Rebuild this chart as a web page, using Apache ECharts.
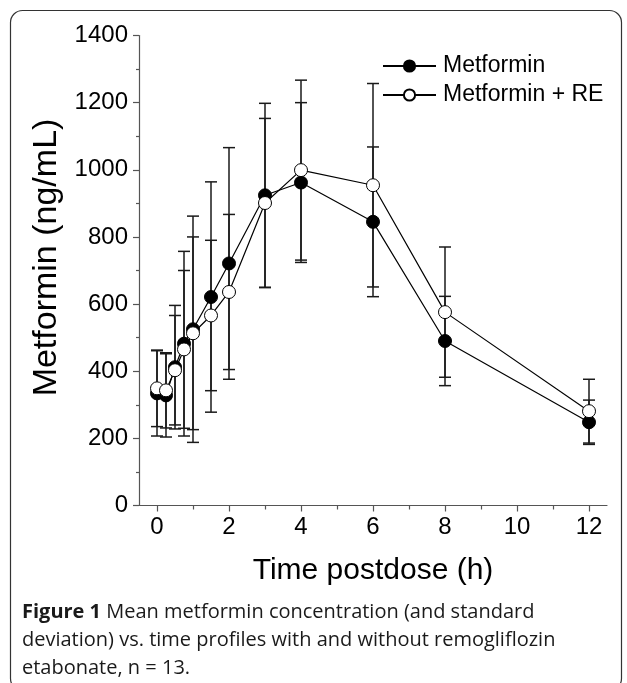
<!DOCTYPE html>
<html>
<head>
<meta charset="utf-8">
<script src="https://cdn.jsdelivr.net/npm/echarts@6/dist/echarts.min.js"></script>
<style>
html,body{margin:0;padding:0;background:#fff;}
#chart{width:627px;height:683px;}
</style>
</head>
<body>
<div id="chart"></div>
<script>
// ---- Data ----
var times = [0, 0.25, 0.5, 0.75, 1, 1.5, 2, 3, 4, 6, 8, 12];
var metformin = [334, 328, 412, 482, 525, 621, 721, 924, 962, 845, 490, 248];
var metforminSD = [127, 124, 184, 275, 337, 343, 345, 274, 238, 223, 133, 66];
var metforminRE = [349, 343, 403, 465, 513, 566, 636, 901, 999, 954, 576, 281];
var metforminRESD = [114, 112, 163, 235, 287, 224, 231, 252, 268, 303, 194, 95];
var seriesNames = ['Metformin', 'Metformin + RE'];
var xTickLabels = [0, 2, 4, 6, 8, 10, 12];
var xMinorTicks = [1, 3, 5, 7, 9, 11];
var captionBold = 'Figure 1';
var captionText = ' Mean metformin concentration (and standard\ndeviation) vs. time profiles with and without remogliflozin\netabonate, n = 13.';

function pairs(xs, ys) { return xs.map(function (x, i) { return [x, ys[i]]; }); }
function errData(xs, ys, sd) { return xs.map(function (x, i) { return [x, ys[i] - sd[i], ys[i] + sd[i]]; }); }

function errorBarRender(params, api) {
  var x = api.value(0);
  var lo = api.coord([x, api.value(1)]);
  var hi = api.coord([x, api.value(2)]);
  var half = 6;
  var st = { stroke: '#1a1a1a', lineWidth: 1.5 };
  return {
    type: 'group',
    children: [
      { type: 'line', shape: { x1: lo[0], y1: lo[1], x2: hi[0], y2: hi[1] }, style: st },
      { type: 'line', shape: { x1: hi[0] - half, y1: hi[1], x2: hi[0] + half, y2: hi[1] }, style: st },
      { type: 'line', shape: { x1: lo[0] - half, y1: lo[1], x2: lo[0] + half, y2: lo[1] }, style: st }
    ]
  };
}

var FONT = 'Liberation Sans, Arial, sans-serif';
var CAPFONT = 'Open Sans, Noto Sans, sans-serif';
var chart = echarts.init(document.getElementById('chart'), null, { renderer: 'canvas' });

var option = {
  backgroundColor: '#fff',
  animation: false,
  grid: { left: 139, top: 35.5, right: 20, bottom: 177.5, containLabel: false },
  legend: {
    orient: 'vertical',
    left: 377,
    top: 49,
    data: seriesNames,
    itemWidth: 53,
    itemHeight: 14,
    itemGap: 5,
    textStyle: { fontSize: 23, fontFamily: FONT, color: '#000', lineHeight: 24, padding: [0, 0, 0, 2] }
  },
  xAxis: [{
    type: 'value',
    min: -0.5,
    max: 12.5,
    name: 'Time postdose (h)',
    nameLocation: 'middle',
    nameGap: 50,
    nameTextStyle: { fontSize: 30, fontFamily: FONT, color: '#000' },
    axisLine: { show: true, onZero: false, lineStyle: { color: '#555', width: 1.2 } },
    axisTick: { show: true, inside: false, length: 6, customValues: xTickLabels, lineStyle: { color: '#555', width: 1.2 } },
    axisLabel: { fontSize: 24, fontFamily: FONT, color: '#000', margin: 10, customValues: xTickLabels },
    splitLine: { show: false }
  }, {
    type: 'value',
    min: -0.5,
    max: 12.5,
    position: 'bottom',
    axisLine: { show: false, onZero: false },
    axisTick: { show: true, inside: false, length: 4, customValues: xMinorTicks, lineStyle: { color: '#555', width: 1.2 } },
    axisLabel: { show: false },
    splitLine: { show: false }
  }],
  yAxis: {
    type: 'value',
    min: 0,
    max: 1400,
    interval: 200,
    name: 'Metformin (ng/mL)',
    nameLocation: 'middle',
    nameGap: 72,
    nameTextStyle: { fontSize: 34, fontFamily: FONT, color: '#000', padding: [0, 0, 0, 26] },
    axisLine: { show: true, onZero: false, lineStyle: { color: '#555', width: 1.2 } },
    axisTick: { show: true, inside: false, length: 6, lineStyle: { color: '#555', width: 1.2 } },
    minorTick: { show: true, splitNumber: 2, length: 3, lineStyle: { color: '#555', width: 1.2 } },
    axisLabel: { fontSize: 24, fontFamily: FONT, color: '#000', margin: 11, formatter: function (v) { return String(v); } },
    splitLine: { show: false },
    minorSplitLine: { show: false }
  },
  series: [
    {
      name: 'err1', type: 'custom', renderItem: errorBarRender,
      data: errData(times, metformin, metforminSD), z: 1, silent: true,
      encode: { x: 0, y: [1, 2] }
    },
    {
      name: 'err2', type: 'custom', renderItem: errorBarRender,
      data: errData(times, metforminRE, metforminRESD), z: 1, silent: true,
      encode: { x: 0, y: [1, 2] }
    },
    {
      name: seriesNames[0], type: 'line', data: pairs(times, metformin), z: 3,
      symbol: 'circle', symbolSize: 13, showAllSymbol: true,
      lineStyle: { color: '#000', width: 1.2 },
      itemStyle: { color: '#000', borderColor: '#000', borderWidth: 1 }
    },
    {
      name: seriesNames[1], type: 'line', data: pairs(times, metforminRE), z: 4,
      symbol: 'circle', symbolSize: 13, showAllSymbol: true,
      lineStyle: { color: '#000', width: 1.2 },
      itemStyle: { color: '#fff', borderColor: '#000', borderWidth: 1 }
    }
  ],
  graphic: [
    {
      type: 'rect', silent: true, z: -1,
      shape: { x: 10.5, y: 10.5, width: 611, height: 680, r: 12 },
      style: { fill: 'none', stroke: '#333', lineWidth: 1.2 }
    },
    {
      type: 'text', left: 22, top: 598, silent: true,
      style: {
        text: '{b|' + captionBold + '}' + captionText,
        fontSize: 20, fontFamily: CAPFONT, fill: '#1a1a1a', lineHeight: 28,
        rich: { b: { fontWeight: 'bold', fontSize: 20, fontFamily: CAPFONT, fill: '#1a1a1a', lineHeight: 28 } }
      }
    }
  ]
};
chart.setOption(option);
</script>
</body>
</html>
